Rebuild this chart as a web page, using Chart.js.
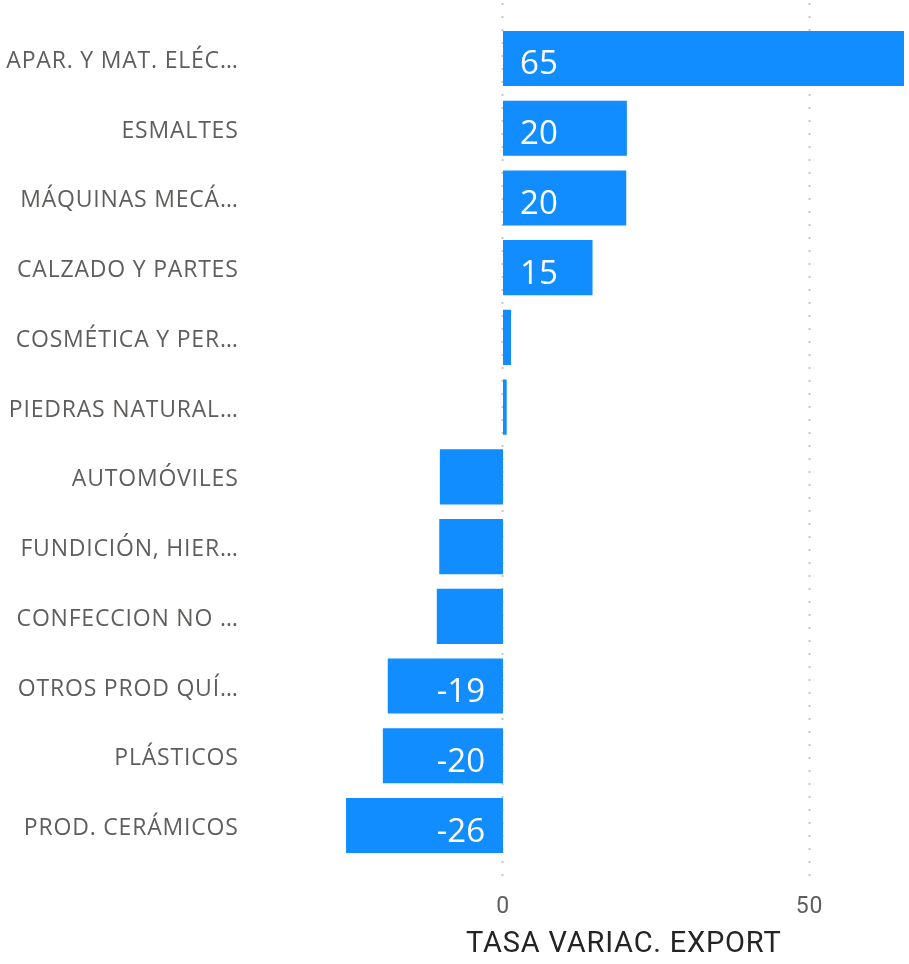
<!DOCTYPE html>
<html>
<head>
<meta charset="utf-8">
<script src="https://cdn.jsdelivr.net/npm/chart.js@4/dist/chart.umd.min.js"></script>
<style>
  html, body { margin: 0; padding: 0; background: #ffffff; }
  #wrap { position: relative; width: 909px; height: 964px; }
</style>
</head>
<body>
<div id="wrap"><canvas id="c"></canvas></div>
<script>
// ---- data ----
const categories = [
  "APAR. Y MAT. ELÉC…",
  "ESMALTES",
  "MÁQUINAS MECÁ…",
  "CALZADO Y PARTES",
  "COSMÉTICA Y PER…",
  "PIEDRAS NATURAL…",
  "AUTOMÓVILES",
  "FUNDICIÓN, HIER…",
  "CONFECCION NO …",
  "OTROS PROD QUÍ…",
  "PLÁSTICOS",
  "PROD. CERÁMICOS"
];
const tasaVariacExport = [65.4, 20.2, 20.1, 14.6, 1.3, 0.6, -10.3, -10.4, -10.8, -18.8, -19.6, -25.6];
const xTickValues = [0, 50];
const axisTitle = "TASA VARIAC. EXPORT";

const barColor = "#118DFF";

// letter spacing for axis text (Chart.js has no option for it)
const spacing = {
  id: "spacing",
  beforeDraw(chart) { chart.ctx.letterSpacing = "0.8px"; },
  afterDraw(chart) { chart.ctx.letterSpacing = "0px"; }
};

// dotted vertical grid lines drawn through the x scale
const dottedGrid = {
  id: "dottedGrid",
  beforeDatasetsDraw(chart) {
    const xs = chart.scales.x;
    const ctx = chart.ctx;
    ctx.save();
    ctx.strokeStyle = "#C8C6C4";
    ctx.lineWidth = 2;
    ctx.setLineDash([2, 11]);
    xTickValues.forEach(v => {
      const px = Math.round(xs.getPixelForValue(v)) - 0.5;
      ctx.beginPath();
      ctx.moveTo(px, 3);
      ctx.lineTo(px, chart.chartArea.bottom + 22);
      ctx.stroke();
    });
    ctx.restore();
  }
};

// data labels inside bars, anchored at the base
const barLabels = {
  id: "barLabels",
  afterDatasetsDraw(chart) {
    const ctx = chart.ctx;
    const meta = chart.getDatasetMeta(0);
    ctx.save();
    ctx.letterSpacing = "0px";
    ctx.fillStyle = "#ffffff";
    ctx.font = "33px 'Open Sans'";
    ctx.textBaseline = "alphabetic";
    meta.data.forEach((el, i) => {
      const v = chart.data.datasets[0].data[i];
      const w = Math.abs(el.x - el.base);
      if (w < 75) return;
      const txt = String(Math.round(v));
      const y = el.y + 16;
      if (v >= 0) {
        ctx.textAlign = "left";
        ctx.fillText(txt, el.base + 17, y);
      } else {
        ctx.textAlign = "right";
        ctx.fillText(txt, el.base - 18, y);
      }
    });
    ctx.restore();
  }
};

new Chart(document.getElementById("c"), {
  type: "bar",
  data: {
    labels: categories,
    datasets: [{
      label: axisTitle,
      data: tasaVariacExport,
      backgroundColor: barColor,
      borderWidth: 0,
      barPercentage: 0.79,
      categoryPercentage: 1.0
    }]
  },
  options: {
    indexAxis: "y",
    responsive: true,
    maintainAspectRatio: false,
    animation: false,
    layout: { padding: { top: 23.6, right: 5, left: 0, bottom: 0 } },
    plugins: {
      legend: { display: false },
      tooltip: { enabled: false }
    },
    scales: {
      x: {
        type: "linear",
        min: -26,
        max: 65.4,
        afterBuildTicks(scale) { scale.ticks = xTickValues.map(v => ({ value: v })); },
        afterFit(scale) {
          scale.height = 103.6;
          scale.paddingLeft = 0; scale.paddingRight = 0;
        },
        grid: { display: false, drawTicks: false },
        border: { display: false },
        ticks: {
          padding: 33,
          color: "#605E5C",
          font: { family: "Roboto", size: 23 },
          maxRotation: 0
        },
        title: {
          display: true,
          text: axisTitle,
          color: "#252423",
          font: { family: "Roboto", size: 29 },
          padding: { top: 4, bottom: 2 }
        }
      },
      y: {
        afterFit(scale) {
          scale.width = 343.6;
          scale.paddingTop = 0; scale.paddingBottom = 0;
        },
        grid: { display: false, drawTicks: false },
        border: { display: false },
        ticks: {
          padding: 105,
          labelOffset: 3,
          color: "#605E5C",
          font: { family: "Open Sans", size: 23 },
          autoSkip: false
        }
      }
    }
  },
  plugins: [spacing, dottedGrid, barLabels]
});
</script>
</body>
</html>
